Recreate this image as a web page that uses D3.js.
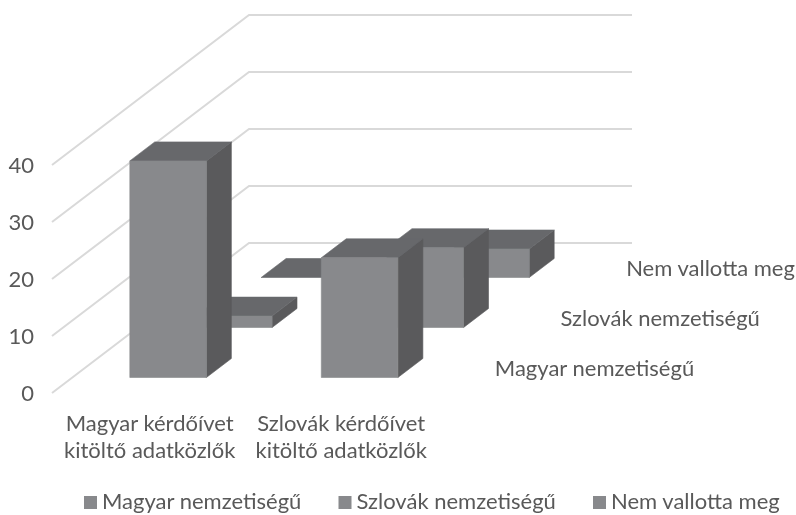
<!DOCTYPE html>
<html>
<head>
<meta charset="utf-8">
<script src="https://cdn.jsdelivr.net/npm/d3@7"></script>
<style>
html, body { margin: 0; padding: 0; background: #fff; }
svg { display: block; filter: blur(0.5px); }
text { font-family: Lato, "Open Sans", sans-serif; fill: #595959; }
</style>
</head>
<body>
<div id="chart"></div>
<script>
// data
var categories = [["Magyar kérdőívet", "kitöltő adatközlők"], ["Szlovák kérdőívet", "kitöltő adatközlők"]];
var series = ["Magyar nemzetiségű", "Szlovák nemzetiségű", "Nem vallotta meg"];
var magyar = [38, 21];
var szlovak = [2, 14];
var nem = [0, 5];
var seriesValues = [magyar, szlovak, nem];
var yTicks = [0, 10, 20, 30, 40];

var width = 796;
var height = 515;

// oblique projection of the 3d box
var left = 52;
var depthX = 197;
var depthY = 150;

var svg = d3.select("#chart").append("svg")
    .attr("width", width)
    .attr("height", height);

var x = d3.scaleBand()
    .domain(d3.range(categories.length))
    .range([left, left + 383])
    .paddingInner(0.6)
    .paddingOuter(0.3);

var y = d3.scaleLinear()
    .domain([0, 40])
    .range([393, 165]);

var z = d3.scaleBand()
    .domain(d3.range(series.length))
    .range([0, 1])
    .paddingInner(0.62)
    .paddingOuter(0.31);

function px(xv, zv) { return xv + zv * depthX; }
function py(v, zv) { return y(v) - zv * depthY; }
function pt(xv, v, zv) { return [px(xv, zv), py(v, zv)]; }

// gridlines
var grid = svg.append("g");
grid.selectAll("path")
    .data(yTicks)
    .enter()
    .append("path")
    .attr("fill", "none")
    .attr("stroke", "#d9d9d9")
    .attr("stroke-width", 2)
    .attr("d", function(d) {
        return d3.line()([pt(left, d, 0), pt(left, d, 1), pt(left + 383, d, 1)]);
    });

// y axis
var yAxis = svg.append("g")
    .attr("transform", "translate(34,0)")
    .call(d3.axisLeft(y).tickValues(yTicks).tickSize(0).tickPadding(0));
yAxis.select(".domain").remove();
yAxis.selectAll("text")
    .style("font-size", "22px")
    .style("font-family", "Lato, sans-serif")
    .attr("fill", "#595959");

// bars, back series first so nearer ones overlap
var barColors = { front: "#88898c", top: "#67686b", side: "#5a5a5c" };
d3.range(series.length).reverse().forEach(function(s) {
    var g = svg.append("g");
    seriesValues[s].forEach(function(v, c) {
        var x0 = x(c);
        var x1 = x0 + x.bandwidth();
        var z0 = z(s);
        var z1 = z0 + z.bandwidth();
        var faces = [
            { fill: barColors.side, pts: [pt(x1, 0, z0), pt(x1, 0, z1), pt(x1, v, z1), pt(x1, v, z0)] },
            { fill: barColors.top, pts: [pt(x0, v, z0), pt(x1, v, z0), pt(x1, v, z1), pt(x0, v, z1)] },
            { fill: barColors.front, pts: [pt(x0, 0, z0), pt(x1, 0, z0), pt(x1, v, z0), pt(x0, v, z0)] }
        ];
        g.selectAll(null)
            .data(faces)
            .enter()
            .append("polygon")
            .attr("points", function(d) { return d.pts.join(" "); })
            .attr("fill", function(d) { return d.fill; })
            .attr("stroke", function(d) { return d.fill; })
            .attr("stroke-width", 0.6);
    });
});

// series labels on the depth axis
svg.selectAll(".series-label")
    .data(series)
    .enter()
    .append("text")
    .attr("class", "series-label")
    .attr("x", function(d, i) { return px(left + 383, z(i) + z.bandwidth() / 2) + 27; })
    .attr("y", function(d, i) { return py(0, z(i) + z.bandwidth() / 2); })
    .attr("dy", "0.35em")
    .style("font-size", "22px")
    .text(function(d) { return d; });

// category labels
categories.forEach(function(lines, c) {
    svg.selectAll(null)
        .data(lines)
        .enter()
        .append("text")
        .attr("x", x(c) + x.bandwidth() / 2 + 2)
        .attr("y", function(d, i) { return 431 + i * 27; })
        .attr("text-anchor", "middle")
        .style("font-size", "22px")
        .text(function(d) { return d; });
});

// legend
var legendX = d3.scalePoint()
    .domain(d3.range(series.length))
    .range([84, 593]);
var legend = svg.selectAll(".legend")
    .data(series)
    .enter()
    .append("g")
    .attr("class", "legend")
    .attr("transform", function(d, i) { return "translate(" + legendX(i) + ",0)"; });
legend.append("rect")
    .attr("y", 496)
    .attr("width", 13)
    .attr("height", 13)
    .attr("fill", barColors.front);
legend.append("text")
    .attr("x", 18)
    .attr("y", 509)
    .style("font-size", "22px")
    .text(function(d) { return d; });
</script>
</body>
</html>
